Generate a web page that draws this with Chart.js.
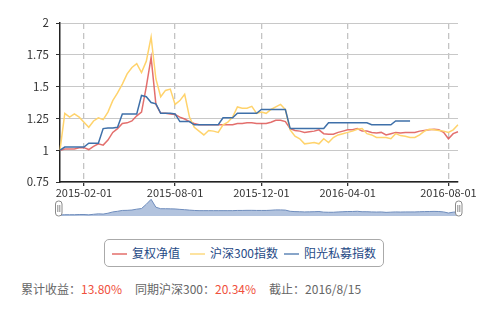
<!DOCTYPE html>
<html lang="zh">
<head>
<meta charset="UTF-8">
<title>复权净值走势</title>
<style>
  body { margin: 0; width: 478px; height: 309px; background: #fff; position: relative; overflow: hidden;
         font-family: "Noto Sans CJK SC", sans-serif; }
  #main { position: absolute; left: 0; top: 0; width: 478px; height: 200px; }
  #zoom { position: absolute; left: 0; top: 196px; width: 478px; height: 24px; }
  #legend { position: absolute; left: 104px; top: 239px; width: 278px; height: 26px; border: 1px solid #aaa;
            border-radius: 5px; font-size: 12px; color: #1f4a86; line-height: 26px; white-space: nowrap; }
  #legend span.item { position: absolute; top: 0; }
  #legend i { display: inline-block; width: 15px; height: 2px; vertical-align: middle; margin-right: 5px; margin-top: -2px; }
  #foot { position: absolute; left: 21px; top: 280px; font-size: 12px; color: #666; white-space: nowrap; }
  #foot b { font-weight: normal; color: #f0503c; margin-right: 13px; }
</style>
</head>
<body>
<div id="main"><canvas id="chart"></canvas></div>
<div id="zoom"><canvas id="thumb"></canvas></div>
<div id="legend"></div>
<div id="foot"></div>

<script src="https://cdn.jsdelivr.net/npm/chart.js"></script>
<script>
// data
var dates = ['2015-01-04','2015-01-09','2015-01-14','2015-01-19','2015-01-25','2015-02-01','2015-02-10','2015-02-20','2015-03-01','2015-03-10',
  '2015-03-20','2015-03-29','2015-04-08','2015-04-17','2015-04-27','2015-05-06','2015-05-15','2015-05-25','2015-06-03','2015-06-13',
  '2015-06-22','2015-07-02','2015-07-11','2015-07-21','2015-08-01','2015-08-08','2015-08-14','2015-08-21','2015-08-28','2015-09-04',
  '2015-09-11','2015-09-18','2015-09-25','2015-10-02','2015-10-09','2015-10-16','2015-10-23','2015-10-30','2015-11-06','2015-11-13',
  '2015-11-20','2015-11-26','2015-12-01','2015-12-08','2015-12-15','2015-12-22','2015-12-29','2016-01-05','2016-01-12','2016-01-19',
  '2016-01-26','2016-02-02','2016-02-09','2016-02-16','2016-02-23','2016-03-01','2016-03-08','2016-03-15','2016-03-22','2016-03-27',
  '2016-04-01','2016-04-07','2016-04-13','2016-04-19','2016-04-25','2016-05-01','2016-05-07','2016-05-13','2016-05-19','2016-05-25',
  '2016-05-31','2016-06-06','2016-06-12','2016-06-18','2016-06-24','2016-06-30','2016-07-06','2016-07-12','2016-07-18','2016-07-24',
  '2016-07-28','2016-08-01','2016-08-08','2016-08-15']

var tickDates = ['2015-02-01','2015-08-01','2015-12-01','2016-04-01','2016-08-01']

var seriesNames = ['复权净值','沪深300指数','阳光私募指数']

var nav = [1.00,1.01,1.01,1.01,1.02, 1.02,1.005,1.03,1.05,1.04, 1.08,1.14,1.17,1.21,1.215, 1.23,1.27,1.30,1.50,1.73,
  1.36,1.29,1.29,1.285,1.28, 1.26,1.245,1.225,1.21,1.20, 1.20,1.20,1.20,1.20,1.20, 1.20,1.20,1.21,1.21,1.215,
  1.215,1.21,1.21,1.21,1.22, 1.235,1.235,1.225,1.17,1.155, 1.15,1.14,1.145,1.15,1.16, 1.13,1.125,1.125,1.14,1.15,
  1.16,1.16,1.17,1.15,1.15, 1.14,1.135,1.14,1.12,1.13, 1.14,1.135,1.14,1.14,1.14, 1.15,1.155,1.16,1.165,1.16,
  1.14,1.09,1.13,1.145]

var hs300 = [1.00,1.29,1.26,1.285,1.26, 1.22,1.18,1.23,1.255,1.24, 1.30,1.39,1.45,1.52,1.60, 1.65,1.68,1.61,1.70,1.89,
  1.56,1.42,1.47,1.48,1.36, 1.39,1.44,1.26,1.18,1.15, 1.12,1.155,1.15,1.14,1.20, 1.22,1.26,1.34,1.33,1.33,
  1.345,1.29,1.30,1.29,1.32, 1.34,1.36,1.32,1.16,1.11, 1.09,1.05,1.055,1.06,1.05, 1.09,1.06,1.10,1.12,1.13,
  1.14,1.15,1.165,1.17,1.13, 1.12,1.10,1.10,1.10,1.09, 1.13,1.115,1.11,1.10,1.10, 1.12,1.15,1.165,1.16,1.155,
  1.15,1.14,1.16,1.20]

var privateIdx = [1.00,1.025,1.025,1.025,1.025, 1.025,1.055,1.055,1.055,1.17, 1.175,1.175,1.18,1.285,1.285, 1.285,1.285,1.43,1.42,1.375,
  1.365,1.29,1.29,1.29,1.285, 1.225,1.225,1.225,1.20,1.20, 1.20,1.20,1.20,1.20,1.255, 1.255,1.255,1.29,1.29,1.29,
  1.29,1.29,1.32,1.32,1.32, 1.32,1.32,1.32,1.17,1.17, 1.17,1.17,1.17,1.17,1.17, 1.17,1.216,1.216,1.216,1.216,
  1.216,1.216,1.216,1.216,1.216, 1.20,1.20,1.20,1.20,1.20, 1.23,1.23,1.23,1.23,null, null,null,null,null,null,
  null,null,null,null]

var totalReturn = '13.80%'
var hs300Return = '20.34%'
var endDate = '2016/8/15'

var lineColors = ['rgba(222,86,84,0.85)', '#ffd36c', '#3f70a9']
var legendColors = ['#ea928f', '#fde3a0', '#88a5c9']

Chart.defaults.font.family = '"Noto Sans CJK SC", sans-serif'
Chart.defaults.font.size = 11
Chart.defaults.color = '#333'

function isTickDate(i) {
  return tickDates.indexOf(dates[i]) >= 0
}

var chart = new Chart(document.getElementById('chart'), {
  type: 'line',
  data: {
    labels: dates,
    datasets: [
      { label: seriesNames[0], data: nav, borderColor: lineColors[0], order: 2 },
      { label: seriesNames[1], data: hs300, borderColor: lineColors[1], order: 1 },
      { label: seriesNames[2], data: privateIdx, borderColor: lineColors[2], order: 0 }
    ]
  },
  options: {
    responsive: true,
    maintainAspectRatio: false,
    animation: false,
    layout: { padding: { left: 0, right: 20, top: 23, bottom: 0 } },
    elements: {
      point: { radius: 0 },
      line: { borderWidth: 1.5, tension: 0 }
    },
    plugins: { legend: { display: false }, tooltip: { enabled: false } },
    scales: {
      x: {
        type: 'category',
        offset: false,
        grid: {
          color: function (c) { return isTickDate(c.index) ? '#c4c4c4' : 'rgba(0,0,0,0)' },
          tickColor: function (c) { return isTickDate(c.index) ? '#333' : 'rgba(0,0,0,0)' },
          tickLength: 4,
          lineWidth: 1.3
        },
        border: { color: '#222', width: 1.5, dash: [6, 4] },
        ticks: {
          autoSkip: false,
          maxRotation: 0,
          padding: 0,
          color: '#333',
          callback: function (v, i) { return isTickDate(i) ? dates[i] : '' }
        },
        afterFit: function (s) { s.height = 18 }
      },
      y: {
        min: 0.75,
        max: 2,
        grid: { color: '#c8c8c8', tickColor: '#333', tickLength: 4, lineWidth: 1 },
        border: { color: '#222', width: 1.5 },
        ticks: {
          stepSize: 0.25,
          padding: 7,
          color: '#333',
          font: { size: 11.5 },
          callback: function (v) { return String(v) }
        },
        afterFit: function (s) { s.width = 60 }
      }
    }
  }
})

// slider handles for the little overview under the axis
var handles = {
  id: 'handles',
  afterDraw: function (c) {
    var ctx = c.ctx, a = c.chartArea
    ;[a.left - 1.5, a.right + 0.5].forEach(function (x) {
      ctx.save()
      ctx.fillStyle = '#fff'
      ctx.strokeStyle = '#8a8a8a'
      ctx.lineWidth = 1
      ctx.beginPath()
      ctx.roundRect(x - 3, 5, 6.5, 15, 3)
      ctx.fill()
      ctx.stroke()
      ctx.beginPath()
      ctx.moveTo(x - 0.7, 9); ctx.lineTo(x - 0.7, 16)
      ctx.moveTo(x + 1.3, 9); ctx.lineTo(x + 1.3, 16)
      ctx.stroke()
      ctx.restore()
    })
  }
}

var thumb = new Chart(document.getElementById('thumb'), {
  type: 'line',
  data: {
    labels: dates,
    datasets: [{ data: nav, borderColor: '#6f8dbd', borderWidth: 1, backgroundColor: '#b2c3de', fill: 'start', pointRadius: 0 }]
  },
  options: {
    responsive: true,
    maintainAspectRatio: false,
    animation: false,
    layout: { padding: { left: 60, right: 20, top: 3, bottom: 4 } },
    plugins: { legend: { display: false }, tooltip: { enabled: false } },
    scales: {
      x: { display: false, offset: false },
      y: { display: false, min: 0.95, max: 1.745 }
    }
  },
  plugins: [handles]
})

// legend box
var lg = document.getElementById('legend')
var legendLeft = [7, 85, 179]
seriesNames.forEach(function (n, i) {
  var s = document.createElement('span')
  s.className = 'item'
  s.style.left = legendLeft[i] + 'px'
  s.innerHTML = '<i style="background:' + legendColors[i] + '"></i>' + n
  lg.appendChild(s)
})

document.getElementById('foot').innerHTML =
  '累计收益：<b>' + totalReturn + '</b>同期沪深300：<b>' + hs300Return + '</b>截止：' + endDate
</script>
</body>
</html>
